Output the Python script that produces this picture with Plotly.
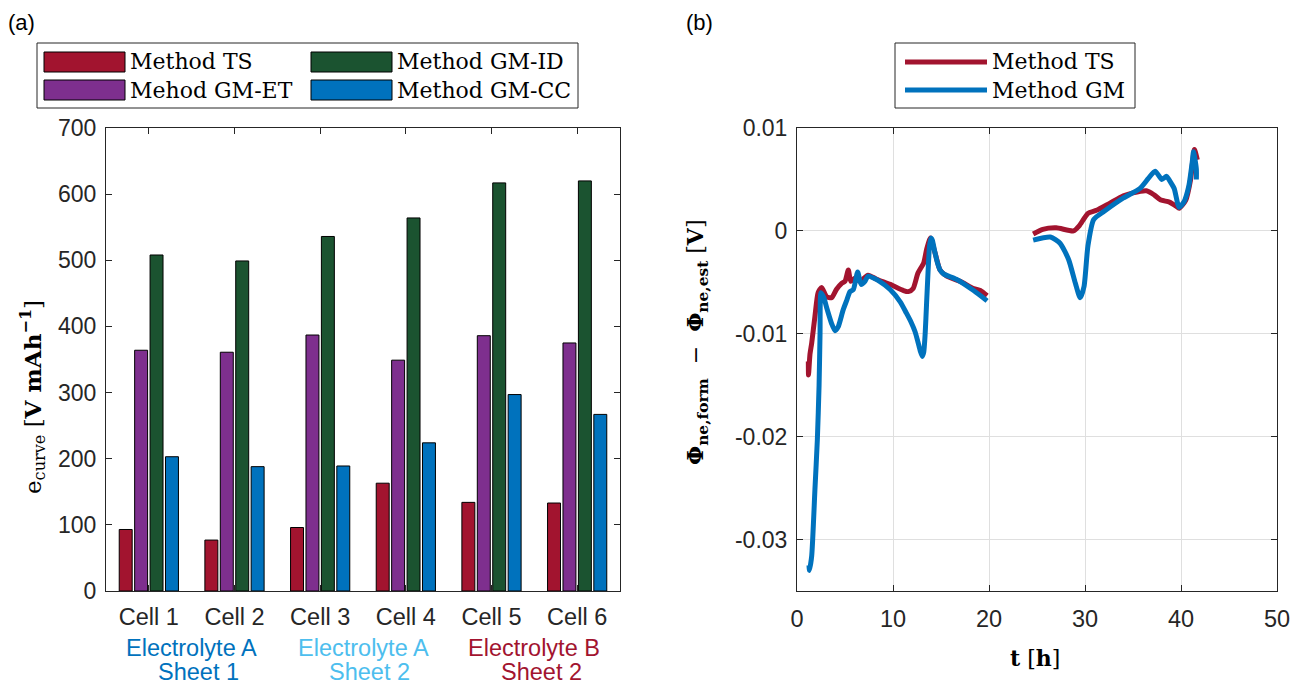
import plotly.graph_objects as go

W, H = 1291, 685

# ---------------- data: panel (a) ----------------
cells = ["Cell 1", "Cell 2", "Cell 3", "Cell 4", "Cell 5", "Cell 6"]
series_names = ["Method TS", "Mehod GM-ET", "Method GM-ID", "Method GM-CC"]
ts_vals = [93, 77, 96, 163, 134, 133]
et_vals = [364, 361, 387, 349, 386, 375]
id_vals = [508, 499, 536, 564, 617, 620]
cc_vals = [203, 188, 189, 224, 297, 267]
group_line1 = ["Electrolyte A", "Electrolyte A", "Electrolyte B"]
group_line2 = ["Sheet 1", "Sheet 2", "Sheet 2"]
group_pos = [0.5, 2.5, 4.5]

# ---------------- data: panel (b) ----------------
ts_t = [1.18, 1.2, 1.35, 1.53, 1.87, 2.2, 2.57, 3.09, 3.6, 4.1, 4.65, 5.0, 5.35, 5.6, 6.04, 6.56, 7.4, 8.3,
        9.7, 11.1, 11.6, 12.1, 12.6, 13.2, 13.5, 13.9, 14.4, 14.9, 15.6, 17.0, 18.4, 19.1, 19.8,
        None,
        24.6, 25.6, 27.0, 28.8, 29.4, 30.3, 31.2, 32.6, 34.0, 35.0, 36.4, 37.2, 37.9, 38.8, 39.5,
        39.8, 40.5, 41.0, 41.4, 41.7]
ts_v = [-0.0127, -0.0140, -0.0120, -0.0109, -0.0083, -0.0060, -0.0055, -0.0064, -0.0065, -0.0057, -0.0051,
        -0.0049, -0.0038, -0.0049, -0.0046, -0.0049, -0.0043, -0.0047, -0.0052,
        -0.0058, -0.0059, -0.0056, -0.0041, -0.0031, -0.0018, -0.0007, -0.0022, -0.0038, -0.0044, -0.0049,
        -0.0056, -0.0058, -0.0063,
        None,
        -0.0003, 0.00015, 0.0003, 0.0, 0.0005, 0.0017, 0.0020, 0.0027, 0.0034, 0.0037, 0.0039, 0.0035, 0.0030,
        0.0028, 0.0024, 0.0022, 0.0030, 0.0050, 0.0079, 0.0069]
gm_t = [1.25, 1.3, 1.53, 1.87, 2.12, 2.3, 2.4, 2.5, 2.8, 3.1, 3.6, 3.96, 4.3, 4.8, 5.2, 5.52, 5.87, 6.32, 6.67,
        7.08, 7.4, 8.6, 9.7, 10.75, 11.4, 11.9, 12.3, 12.6, 12.85, 13.05, 13.2, 13.35, 13.5, 13.65, 13.8,
        13.95, 14.1, 14.3, 14.6, 14.9, 15.3, 16.6, 18.4, 19.8,
        None,
        24.6, 26.4, 27.4, 28.3, 29.0, 29.5, 29.9, 30.3, 30.9, 32.0, 34.0, 35.7, 36.6, 37.3, 38.0, 38.5,
        39.0, 39.3, 39.8, 40.3, 40.8, 41.2, 41.3, 41.6, 41.6]
gm_v = [-0.0325, -0.0330, -0.0316, -0.0251, -0.0203, -0.0150, -0.0100, -0.0060, -0.0065, -0.0075, -0.0090,
        -0.0097, -0.0093, -0.0077, -0.0067, -0.0059, -0.0057, -0.0040, -0.0052, -0.0049, -0.0044, -0.0049,
        -0.0057, -0.0069, -0.0080, -0.0089, -0.0098, -0.0108, -0.0117, -0.0122, -0.0118, -0.0100, -0.0070,
        -0.0040, -0.0015, -0.0007, -0.0009, -0.0018, -0.0030, -0.0038, -0.0042, -0.0047, -0.0058, -0.0068,
        None,
        -0.0009, -0.0006, -0.0012, -0.0028, -0.0051, -0.0065, -0.0054, -0.0015, 0.0011, 0.0019, 0.0032,
        0.0041, 0.0051, 0.0058, 0.0050, 0.0053, 0.0046, 0.0041, 0.0023, 0.0028, 0.0043, 0.0069, 0.0077,
        0.0060, 0.0050]
line_names = ["Method TS", "Method GM"]
y2_ticks = [-0.03, -0.02, -0.01, 0, 0.01]
y2_ticktext = ["-0.03", "-0.02", "-0.01", "0", "0.01"]

# ---------------- styles ----------------
RED = "#A2142F"
PURPLE = "#7E2F8E"
GREEN = "#1B5330"
BLUE = "#0072BD"
LIGHTBLUE = "#4DBEEE"
AX = "#262626"
SANS = "Liberation Sans, Arial, sans-serif"
SERIF = "DejaVu Serif, serif"


def px(x):
    return x / W


def py(y):
    return 1 - y / H


fig = go.Figure()
bar_colors = [RED, PURPLE, GREEN, BLUE]
for name, vals, col in zip(series_names, [ts_vals, et_vals, id_vals, cc_vals], bar_colors):
    fig.add_trace(go.Bar(x=cells, y=vals, name=name, marker=dict(color=col, line=dict(color="black", width=1)),
                         xaxis="x", yaxis="y", showlegend=False))

fig.add_trace(go.Scatter(x=ts_t, y=ts_v, name=line_names[0], mode="lines",
                         line=dict(color=RED, width=5, shape="spline", smoothing=0.6),
                         xaxis="x2", yaxis="y2", showlegend=False))
fig.add_trace(go.Scatter(x=gm_t, y=gm_v, name=line_names[1], mode="lines",
                         line=dict(color=BLUE, width=5, shape="spline", smoothing=0.6),
                         xaxis="x2", yaxis="y2", showlegend=False))

axis_common = dict(showline=True, linecolor=AX, linewidth=1, mirror="ticks", ticks="inside", ticklen=6,
                   tickcolor=AX, zeroline=False, automargin=False)
xfont = dict(family=SANS, size=23.5, color=AX)
yfont = dict(family=SANS, size=23, color=AX)

fig.update_layout(
    width=W, height=H,
    margin=dict(l=0, r=0, t=0, b=0, pad=0, autoexpand=False),
    paper_bgcolor="white", plot_bgcolor="white",
    barmode="group", bargap=0.28, bargroupgap=0.16,
    xaxis=dict(domain=[px(106), px(620)], range=[-0.5, 5.5], type="category", showgrid=False,
               ticklabelstandoff=5, tickfont=xfont, **axis_common),
    yaxis=dict(domain=[py(591), py(128)], range=[0, 700], dtick=100, showgrid=False,
               ticklabelstandoff=4, tickfont=yfont, **axis_common),
    xaxis2=dict(domain=[px(797), px(1277)], range=[0, 50], dtick=10, showgrid=True, gridcolor="#DFDFDF",
                anchor="y2", ticklabelstandoff=7, tickfont=xfont, **axis_common),
    yaxis2=dict(domain=[py(591), py(128)], range=[-0.035, 0.01], tickvals=y2_ticks, ticktext=y2_ticktext,
                showgrid=True, gridcolor="#DFDFDF", anchor="x2", ticklabelstandoff=4, tickfont=yfont,
                **axis_common),
)

ann = []
ann.append(dict(text="(a)", x=px(6), y=py(22), xref="paper", yref="paper", xanchor="left", yanchor="middle",
                showarrow=False, font=dict(family=SANS, size=22, color="black")))
ann.append(dict(text="(b)", x=px(684), y=py(22), xref="paper", yref="paper", xanchor="left", yanchor="middle",
                showarrow=False, font=dict(family=SANS, size=22, color="black")))
# axis titles
ann.append(dict(text="e<sub>curve</sub> [<b>V mAh</b><sup><b>−1</b></sup>]", x=px(32), y=py(397),
                xref="paper", yref="paper", textangle=-90, showarrow=False, xanchor="center", yanchor="middle",
                font=dict(family=SERIF, size=23, color="black")))
ann.append(dict(text="<b>Φ<sub>ne,form</sub></b>  −  <b>Φ<sub>ne,est</sub></b> [<b>V</b>]", x=px(697), y=py(342),
                xref="paper", yref="paper", textangle=-90, showarrow=False, xanchor="center", yanchor="middle",
                font=dict(family=SERIF, size=22, color="black")))
ann.append(dict(text="<b>t</b> [<b>h</b>]", x=px(1035), y=py(658), xref="paper", yref="paper",
                xanchor="center", yanchor="middle",
                showarrow=False, font=dict(family=SERIF, size=22, color="black")))
# group labels
for l1, l2, pos, col in zip(group_line1, group_line2, group_pos, [BLUE, LIGHTBLUE, RED]):
    ann.append(dict(text=l1, x=pos, y=py(648), xref="x", yref="paper", showarrow=False,
                    xanchor="center", yanchor="middle", borderpad=0,
                    font=dict(family=SANS, size=23.5, color=col)))
    ann.append(dict(text=l2, x=pos + 0.08, y=py(672), xref="x", yref="paper", showarrow=False,
                    xanchor="center", yanchor="middle", borderpad=0,
                    font=dict(family=SANS, size=23.5, color=col)))

shapes = []
# legend (a)
shapes.append(dict(type="rect", xref="paper", yref="paper", x0=px(37), x1=px(578), y0=py(108), y1=py(43),
                   line=dict(color=AX, width=1), fillcolor="white"))
leg_a_pos = [(44, 62), (44, 90), (311, 62), (311, 90)]
for (lx, ly), name, col in zip(leg_a_pos, series_names, bar_colors):
    shapes.append(dict(type="rect", xref="paper", yref="paper", x0=px(lx), x1=px(lx + 81),
                       y0=py(ly + 10), y1=py(ly - 10), line=dict(color="black", width=1), fillcolor=col))
    ann.append(dict(text=name, x=px(lx + 84), y=py(ly), xref="paper", yref="paper", xanchor="left",
                    yanchor="middle", showarrow=False, font=dict(family=SERIF, size=22, color="black")))
# legend (b)
shapes.append(dict(type="rect", xref="paper", yref="paper", x0=px(895), x1=px(1135), y0=py(108), y1=py(43),
                   line=dict(color=AX, width=1), fillcolor="white"))
for ly, name, col in zip([62, 90], line_names, [RED, BLUE]):
    shapes.append(dict(type="line", xref="paper", yref="paper", x0=px(905), x1=px(987), y0=py(ly), y1=py(ly),
                       line=dict(color=col, width=5)))
    ann.append(dict(text=name, x=px(990), y=py(ly), xref="paper", yref="paper", xanchor="left",
                    yanchor="middle", showarrow=False, font=dict(family=SERIF, size=22, color="black")))

fig.update_layout(annotations=ann, shapes=shapes)
fig.write_html("out.html",
               post_script="document.body.style.margin='0px';document.body.style.overflow='hidden';")
